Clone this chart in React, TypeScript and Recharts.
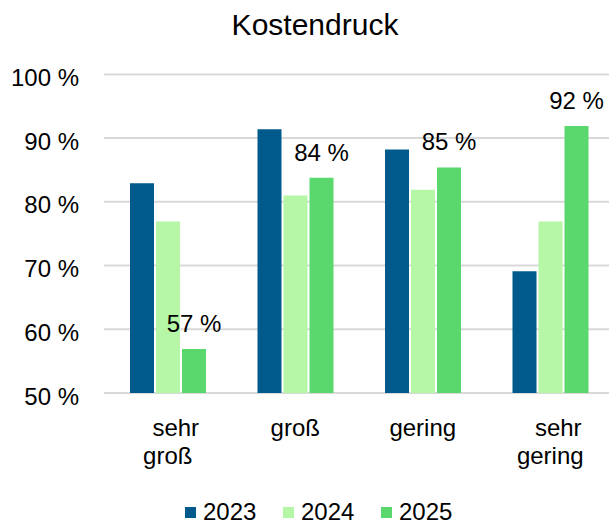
import React from 'react';
import { BarChart, Bar, XAxis, YAxis, CartesianGrid, Legend, LabelList } from 'recharts';

const categories = ['sehr groß', 'groß', 'gering', 'sehr gering'];
const values2023 = [82.9, 91.4, 88.2, 69.1];
const values2024 = [76.9, 81.0, 81.9, 76.9];
const values2025 = [56.9, 83.8, 85.4, 91.9];
const yTicks = [50, 60, 70, 80, 90, 100];

const FONT = '"Liberation Sans", Arial, sans-serif';

const data = categories.map((name, i) => ({
  name,
  y2023: values2023[i],
  y2024: values2024[i],
  y2025: values2025[i],
}));

const CategoryTick = (props: any) => {
  const { x, y, payload } = props;
  const words: string[] = String(payload.value).split(' ');
  return (
    <g transform={`translate(${x},${y})`}>
      {words.map((w, i) => (
        <text
          key={i}
          x={words.length > 1 && i === 0 ? 8 : 0}
          y={43 + i * 28}
          textAnchor="middle"
          fontSize={24}
          fontFamily={FONT}
          fill="#000"
        >
          {w}
        </text>
      ))}
    </g>
  );
};

// value label above the 2025 bars, no wrapping
const ValueLabel = (props: any) => {
  const { x, y, width, value } = props;
  return (
    <text
      x={Number(x) + Number(width) / 2}
      y={Number(y) - 17}
      textAnchor="middle"
      fontSize={24}
      fontFamily={FONT}
      fill="#000"
    >
      {`${Math.round(Number(value))} %`}
    </text>
  );
};

const LegendContent = (props: any) => {
  const { payload } = props;
  return (
    <div style={{ display: 'flex', fontFamily: FONT, fontSize: 24, lineHeight: '24px', color: '#000' }}>
      {(payload || []).map((entry: any) => (
        <div key={entry.value} style={{ display: 'flex', alignItems: 'center', width: 98 }}>
          <span style={{ display: 'inline-block', width: 11, height: 11, background: entry.color, marginRight: 7 }} />
          <span>{entry.value}</span>
        </div>
      ))}
    </div>
  );
};

const App: React.FC = () => {
  return (
    <div style={{ position: 'absolute', left: 0, top: 0, width: 609, height: 526, overflow: 'hidden', background: '#fff' }}>
      <div
        style={{
          position: 'absolute',
          left: 315,
          top: 10,
          transform: 'translateX(-50%)',
          fontFamily: FONT,
          fontSize: 30,
          lineHeight: '30px',
          color: '#000',
          whiteSpace: 'nowrap',
        }}
      >
        Kostendruck
      </div>
      <BarChart
        width={614}
        height={526}
        data={data}
        margin={{ top: 74.4, right: 0, bottom: 103, left: 0 }}
        barSize={24}
        barGap={2}
      >
        <CartesianGrid vertical={false} stroke="#d9d9d9" strokeWidth={2} />
        <XAxis
          dataKey="name"
          axisLine={false}
          tickLine={false}
          tickSize={0}
          tickMargin={0}
          tick={<CategoryTick />}
          interval={0}
        />
        <YAxis
          width={104}
          domain={[50, 100]}
          ticks={yTicks}
          axisLine={false}
          tickLine={false}
          tickSize={0}
          tickMargin={25}
          tickFormatter={(v: number) => `${v} %`}
          tick={{ fontSize: 24, fill: '#000', fontFamily: FONT, dy: 3 }}
        />
        <Legend
          verticalAlign="middle"
          align="center"
          layout="horizontal"
          content={<LegendContent />}
          wrapperStyle={{ left: 185, top: 500, width: 320 }}
        />
        <Bar dataKey="y2023" name="2023" fill="#005a8c" isAnimationActive={false} />
        <Bar dataKey="y2024" name="2024" fill="#b5f7a6" isAnimationActive={false} />
        <Bar dataKey="y2025" name="2025" fill="#5ad86e" isAnimationActive={false}>
          <LabelList dataKey="y2025" content={<ValueLabel />} />
        </Bar>
      </BarChart>
    </div>
  );
};

export default App;
